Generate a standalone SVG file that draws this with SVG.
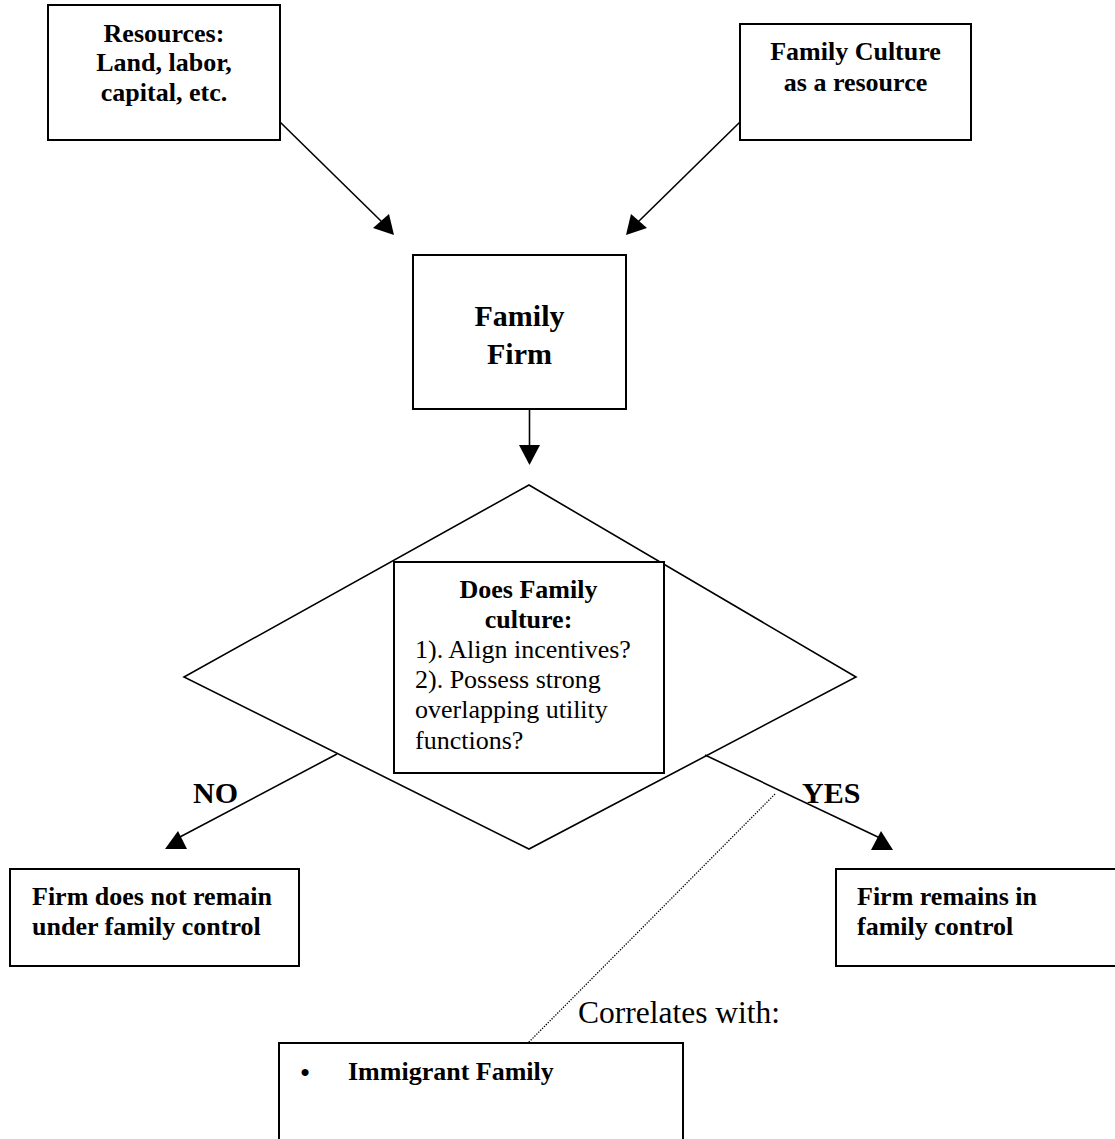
<svg xmlns="http://www.w3.org/2000/svg" width="1115" height="1139" viewBox="0 0 1115 1139">
<style>
.box{fill:#fff;stroke:#000;stroke-width:2}
.ln{fill:none;stroke:#000;stroke-width:1.6}
.dot{fill:none;stroke:#000;stroke-width:1.3;stroke-dasharray:1.3 1.4}
.head{fill:#000;stroke:none}
text{font-family:"Liberation Serif","Times New Roman",serif;fill:#000}
.b{font-weight:bold;font-size:26px}
.r{font-size:26px}
.big{font-weight:bold;font-size:30px}
.c{text-anchor:middle}
</style>
<rect width="1115" height="1139" fill="#fff"/>
<g id="connectors">
<line class="ln" x1="280" y1="122" x2="382" y2="222"/>
<polygon class="head" points="394,235 373,228 389,214"/>
<line class="ln" x1="740" y1="122" x2="638" y2="222"/>
<polygon class="head" points="626,235 647,228 631,214"/>
<line class="ln" x1="529.5" y1="409" x2="529.5" y2="447"/>
<polygon class="head" points="519,445 540,445 529.5,465"/>
<line class="ln" x1="337" y1="754" x2="178" y2="838"/>
<polygon class="head" points="165,849 187,849 178,831"/>
<line class="ln" x1="705" y1="755" x2="880" y2="838"/>
<polygon class="head" points="871,850 893,850 881,831"/>
<line class="dot" x1="775" y1="794" x2="528" y2="1043"/>
</g>
<g id="resources">
<rect class="box" x="48" y="5" width="232" height="135"/>
<text class="b c" x="164" y="42">Resources:</text>
<text class="b c" x="164" y="71">Land, labor,</text>
<text class="b c" x="164" y="101">capital, etc.</text>
</g>
<g id="culture">
<rect class="box" x="740" y="24" width="231" height="116"/>
<text class="b c" x="855.5" y="60">Family Culture</text>
<text class="b c" x="855.5" y="91">as a resource</text>
</g>
<g id="firm">
<rect class="box" x="413" y="255" width="213" height="154"/>
<text class="big c" x="519.5" y="326">Family</text>
<text class="big c" x="519.5" y="364">Firm</text>
</g>
<g id="decision">
<polygon class="ln" points="529,485 856,677 529,849 184,677"/>
<rect class="box" x="394" y="562" width="270" height="211"/>
<text class="b c" x="528.5" y="598">Does Family</text>
<text class="b c" x="528.5" y="628">culture:</text>
<text class="r" x="415" y="658">1). Align incentives?</text>
<text class="r" x="415" y="688">2). Possess strong</text>
<text class="r" x="415" y="718">overlapping utility</text>
<text class="r" x="415" y="749">functions?</text>
</g>
<g id="labels">
<text class="big" x="193" y="803">NO</text>
<text class="big" x="802" y="803">YES</text>
<text x="578" y="1023" style="font-size:31.5px">Correlates with:</text>
</g>
<g id="not-family">
<rect class="box" x="10" y="869" width="289" height="97"/>
<text class="b" x="32" y="905">Firm does not remain</text>
<text class="b" x="32" y="935">under family control</text>
</g>
<g id="family-control">
<rect class="box" x="836" y="869" width="300" height="97"/>
<text class="b" x="857" y="905">Firm remains in</text>
<text class="b" x="857" y="935">family control</text>
</g>
<g id="immigrant">
<rect class="box" x="279" y="1043" width="404" height="120"/>
<text class="b c" x="305" y="1081">•</text>
<text class="b" x="348" y="1080">Immigrant Family</text>
</g>
</svg>
